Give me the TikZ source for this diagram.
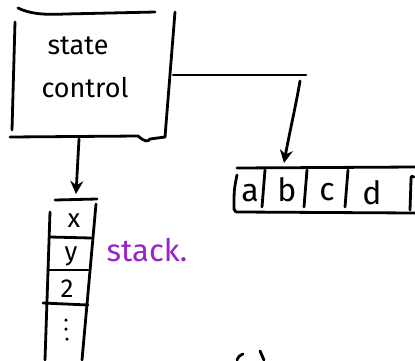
\documentclass[tikz,border=0pt]{standalone}
\usepackage{fontspec}
\setmainfont{Fira Sans}
\usetikzlibrary{arrows.meta}
\definecolor{stackpurple}{RGB}{155,35,200}
\begin{document}
\begin{tikzpicture}[x=1pt,y=-1pt,
  pen/.style={line width=2.8pt, line cap=round, line join=round},
  lbl/.style={inner sep=0pt, font=\fontsize{27}{30}\selectfont},
  cell/.style={inner sep=0pt, font=\fontsize{32}{34}\selectfont},
  scell/.style={inner sep=0pt, font=\fontsize{26}{28}\selectfont},
  dot/.style={fill=black, circle, inner sep=0pt, minimum size=3.5pt},
  arr/.style={pen, -{Stealth[length=13pt,width=13pt]}}]
\useasboundingbox (0,0) rectangle (415,360);
\fill[white] (0,0) rectangle (415,360);

% state control box
\node[minimum width=160pt, minimum height=128pt, inner sep=0pt] (box) at (93,75) {};
\node[lbl] (st) at (78,46) {state};
\node[lbl] (ct) at (85,88) {control};
\draw[pen] (18,8) .. controls (30,14) and (45,15) .. (65,14) -- (155,12);
\draw[pen] (15,22) -- (12,130);
\draw[pen] (175,12) -- (165,137);
\draw[pen] (10,137) -- (138,136) .. controls (145,142) and (148,142) .. (150,139) -- (165,137);

% tape
\node[cell] (ca) at (250,193) {a};
\node[cell] (cb) at (287,190) {b};
\node[cell] (cc) at (327,192) {c};
\node[cell] (cd) at (372,193) {d};
\draw[pen] (237,168) -- (415,167);
\draw[pen] (237,175) .. controls (234,190) .. (234,209) .. controls (235,212) .. (240,212) -- (415,213);
\draw[pen] (265,170) -- (262,207);
\draw[pen] (307,170) -- (304,207);
\draw[pen] (348,170) -- (345,207);
\draw[pen] (414,177) .. controls (411,176) .. (411,180) -- (410,210);

% connector box -> tape
\coordinate (turn) at (306,75);
\coordinate (down) at (300,81);
\coordinate (tapein) at (284,163);
\draw[pen] (box.east) -- (turn);
\draw[arr] (down) .. controls (296,105) and (289,135) .. (tapein);

% stack
\node[scell] (sx) at (74,221) {x};
\node[scell] (sy) at (71,256) {y};
\node[scell] (s2) at (67,289) {2};
\node[dot] (d1) at (66,320) {};
\node[dot] (d2) at (66,329) {};
\node[dot] (d3) at (67,339) {};
\draw[pen] (55,200) -- (97,199);
\draw[pen] (50,212) -- (45,360);
\draw[pen] (96,204) -- (82,360);
\draw[pen] (50,237) -- (91,238);
\draw[pen] (48,270) -- (88,270);
\draw[pen] (43,303) -- (88,305);

% connector box -> stack
\coordinate (boxbottom) at (79,139);
\coordinate (stackin) at (76,194);
\draw[arr] (boxbottom) -- (stackin);

% stack label
\node[inner sep=0pt, text=stackpurple, font=\fontsize{31}{34}\selectfont] (stk) at (147,250) {stack.};

% fragments at bottom edge
\draw[pen] (237,360) .. controls (239,356) .. (243,354);
\draw[pen] (260,351) -- (264,360);
\end{tikzpicture}
\end{document}
